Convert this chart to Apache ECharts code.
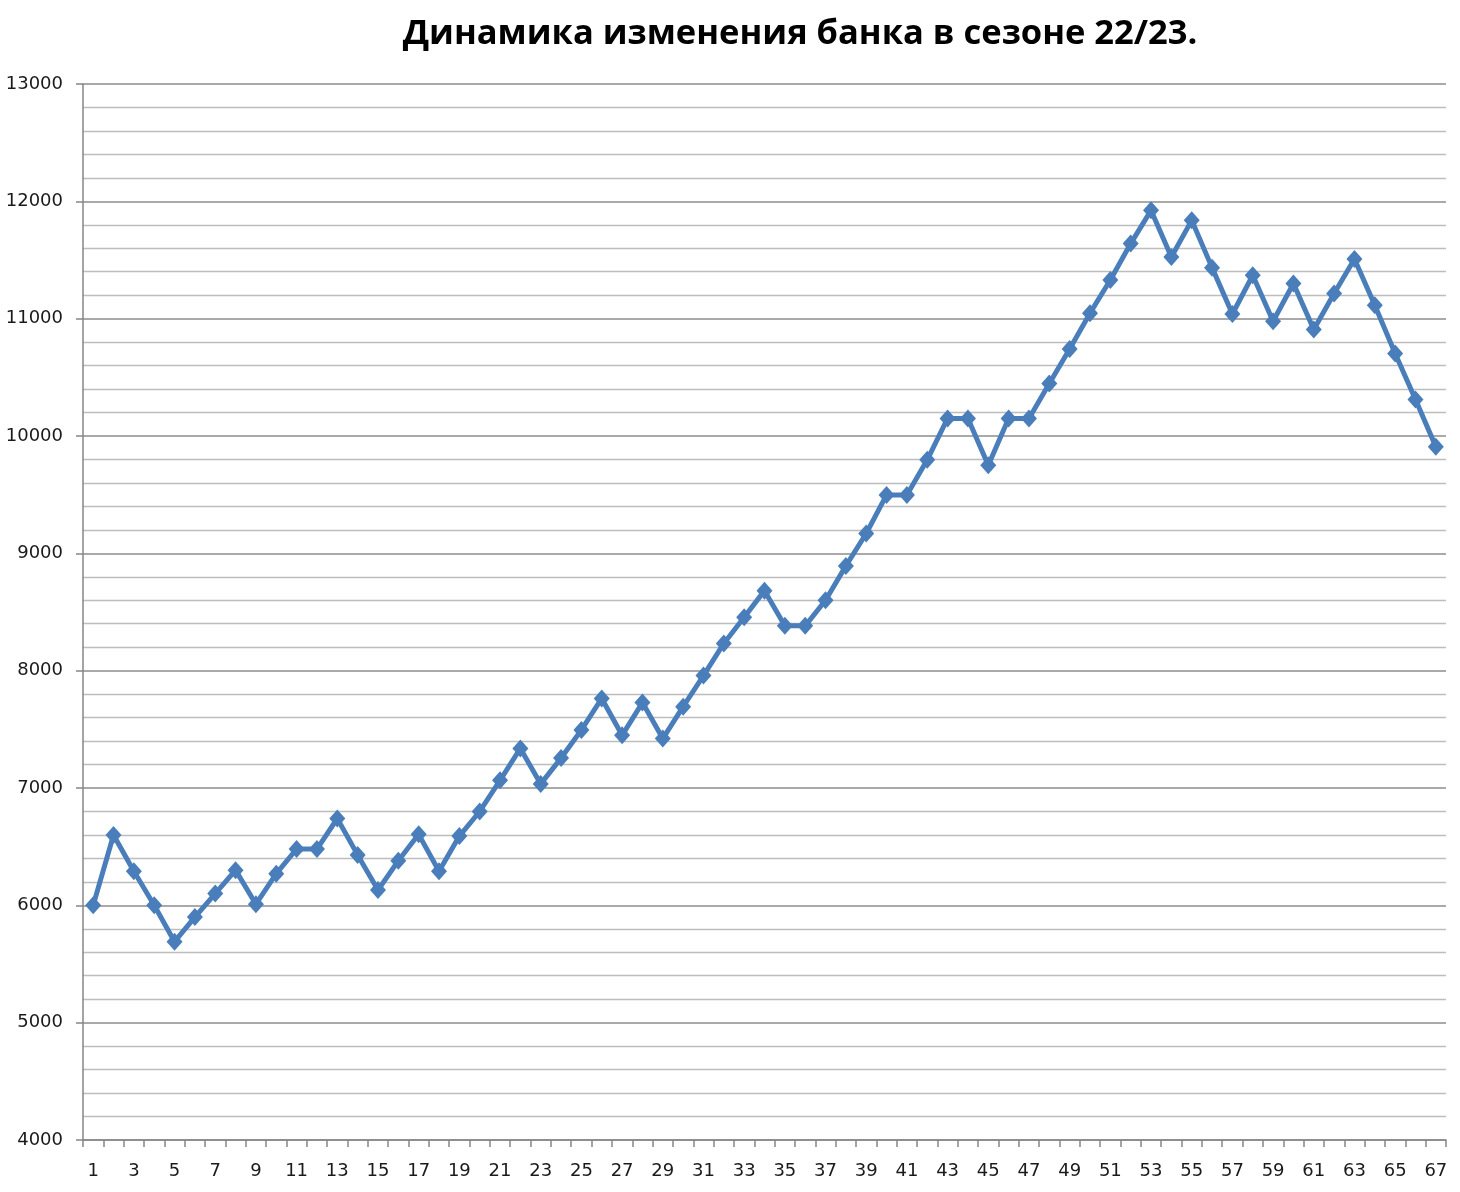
<!DOCTYPE html>
<html>
<head>
<meta charset="utf-8">
<script src="https://cdn.jsdelivr.net/npm/echarts@6/dist/echarts.min.js"></script>
<style>
html,body{margin:0;padding:0;background:#fff;}
#chart{width:1460px;height:1192px;}
</style>
</head>
<body>
<div id="chart"></div>
<script>
const titleText = 'Динамика изменения банка в сезоне 22/23.';
const rounds = [];
for (let i = 1; i <= 67; i++) rounds.push(String(i));
const bank = [
  6000, 6600, 6290, 6000, 5690, 5900, 6100, 6300, 6010, 6270,
  6480, 6480, 6740, 6430, 6130, 6380, 6605, 6290, 6590, 6800,
  7065, 7337, 7035, 7255, 7495, 7763, 7449, 7728, 7421, 7693,
  7958, 8232, 8456, 8682, 8382, 8382, 8600, 8893, 9169, 9498,
  9498, 9797, 10150, 10150, 9750, 10150, 10150, 10447, 10742, 11047,
  11330, 11640, 11923, 11525, 11838, 11435, 11040, 11370, 10978, 11300,
  10907, 11215, 11508, 11114, 10703, 10312, 9908
];
const yMin = 4000, yMax = 13000, yStep = 1000;

const chart = echarts.init(document.getElementById('chart'), null, {renderer: 'canvas'});
chart.setOption({
  animation: false,
  backgroundColor: '#ffffff',
  title: {
    text: titleText,
    left: 795,
    textAlign: 'center',
    top: 12,
    textStyle: {fontFamily: 'Open Sans', fontWeight: 'bold', fontSize: 34.5, color: '#000'}
  },
  grid: {left: 83, right: 14, top: 84, bottom: 52, containLabel: false},
  xAxis: {
    type: 'category',
    data: rounds,
    boundaryGap: true,
    axisLine: {show: true, lineStyle: {color: '#868686', width: 1.5}},
    axisTick: {show: true, interval: 0, alignWithLabel: false, length: 7, lineStyle: {color: '#868686', width: 1.5}},
    axisLabel: {interval: 1, margin: 22, fontFamily: 'DejaVu Sans', fontSize: 18, color: '#1a1a1a'},
    splitLine: {show: false}
  },
  yAxis: {
    type: 'value',
    min: yMin, max: yMax, interval: yStep,
    axisLine: {show: true, lineStyle: {color: '#868686', width: 1.5}},
    axisTick: {show: true, length: 7, lineStyle: {color: '#868686', width: 1.5}},
    axisLabel: {margin: 20, fontFamily: 'DejaVu Sans', fontSize: 18, color: '#1a1a1a', formatter: v => String(v)},
    splitLine: {show: true, lineStyle: {color: '#8c8c8c', width: 1.5}},
    minorTick: {show: false, splitNumber: 5},
    minorSplitLine: {show: true, lineStyle: {color: '#bdbdbd', width: 1.3}}
  },
  series: [{
    type: 'line',
    data: bank,
    symbol: 'diamond',
    symbolSize: [16, 18],
    showAllSymbol: true,
    lineStyle: {color: '#4A7EBB', width: 5},
    itemStyle: {color: '#4A7EBB'}
  }]
});
</script>
</body>
</html>
